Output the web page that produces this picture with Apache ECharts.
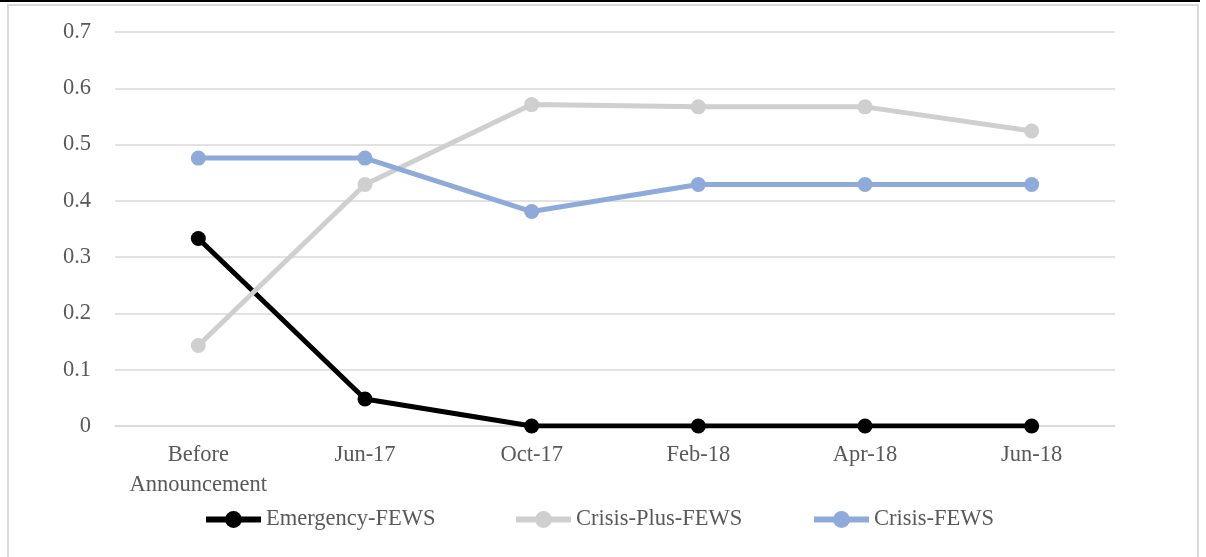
<!DOCTYPE html>
<html>
<head>
<meta charset="utf-8">
<script src="https://cdn.jsdelivr.net/npm/echarts@6/dist/echarts.min.js"></script>
<style>
  html, body { margin: 0; padding: 0; background: #fff; }
  #wrap { position: relative; width: 1206px; height: 557px; overflow: hidden; }
  #topbar { position: absolute; left: 0; top: 0; width: 1200px; height: 2px; background: #000; }
  #frame { position: absolute; left: 7px; top: 4px; width: 1192px; height: 600px; border: 2px solid #d9d9d9; box-sizing: border-box; }
  #chart { position: absolute; left: 0; top: 0; width: 1206px; height: 557px; }
</style>
</head>
<body>
<div id="wrap">
  <div id="topbar"></div>
  <div id="frame"></div>
  <div id="chart"></div>
</div>
<script>
const categories = ['Before\nAnnouncement', 'Jun-17', 'Oct-17', 'Feb-18', 'Apr-18', 'Jun-18'];
const emergencyFEWS = [0.333, 0.048, 0, 0, 0, 0];
const crisisPlusFEWS = [0.143, 0.429, 0.571, 0.567, 0.567, 0.524];
const crisisFEWS = [0.476, 0.476, 0.381, 0.429, 0.429, 0.429];

const seriesNames = ['Emergency-FEWS', 'Crisis-Plus-FEWS', 'Crisis-FEWS'];
const seriesColors = ['#000000', '#cfcfcf', '#8eaadb'];

const font = '"Liberation Serif", "Times New Roman", serif';
const textColor = '#595959';
const fontSize = 22.5;

function lineSeries(name, data, color) {
  return {
    name: name,
    type: 'line',
    data: data,
    symbol: 'circle',
    symbolSize: 15,
    lineStyle: { color: color, width: 5 },
    itemStyle: { color: color },
    emphasis: { disabled: true },
    animation: false
  };
}

// one legend block per series so each entry sits at its own x
const legendLefts = [203, 513, 811];
const legends = seriesNames.map(function (name, i) {
  return {
    left: legendLefts[i],
    top: 508,
    padding: 0,
    itemWidth: 55,
    itemHeight: 21,
    lineStyle: { width: 6 },
    textStyle: { fontFamily: font, fontSize: fontSize, color: textColor },
    data: [name]
  };
});

const chart = echarts.init(document.getElementById('chart'), null, { renderer: 'canvas' });
chart.setOption({
  backgroundColor: 'transparent',
  animation: false,
  grid: { left: 115, right: 91, top: 32, bottom: 131, containLabel: false },
  legend: legends,
  xAxis: {
    type: 'category',
    data: categories,
    boundaryGap: true,
    axisLine: { show: true, lineStyle: { color: '#d9d9d9', width: 1.5 } },
    axisTick: { show: false },
    axisLabel: {
      fontFamily: font, fontSize: fontSize, color: textColor,
      lineHeight: 30, margin: 14, interval: 0
    }
  },
  yAxis: {
    type: 'value',
    min: 0,
    max: 0.7,
    interval: 0.1,
    axisLine: { show: false },
    axisTick: { show: false },
    axisLabel: {
      fontFamily: font, fontSize: fontSize, color: textColor, margin: 24,
      formatter: function (v) { return v === 0 ? '0' : v.toFixed(1); }
    },
    splitLine: { lineStyle: { color: '#d9d9d9', width: 1.5 } }
  },
  series: [
    lineSeries(seriesNames[0], emergencyFEWS, seriesColors[0]),
    lineSeries(seriesNames[1], crisisPlusFEWS, seriesColors[1]),
    lineSeries(seriesNames[2], crisisFEWS, seriesColors[2])
  ]
});
</script>
</body>
</html>
